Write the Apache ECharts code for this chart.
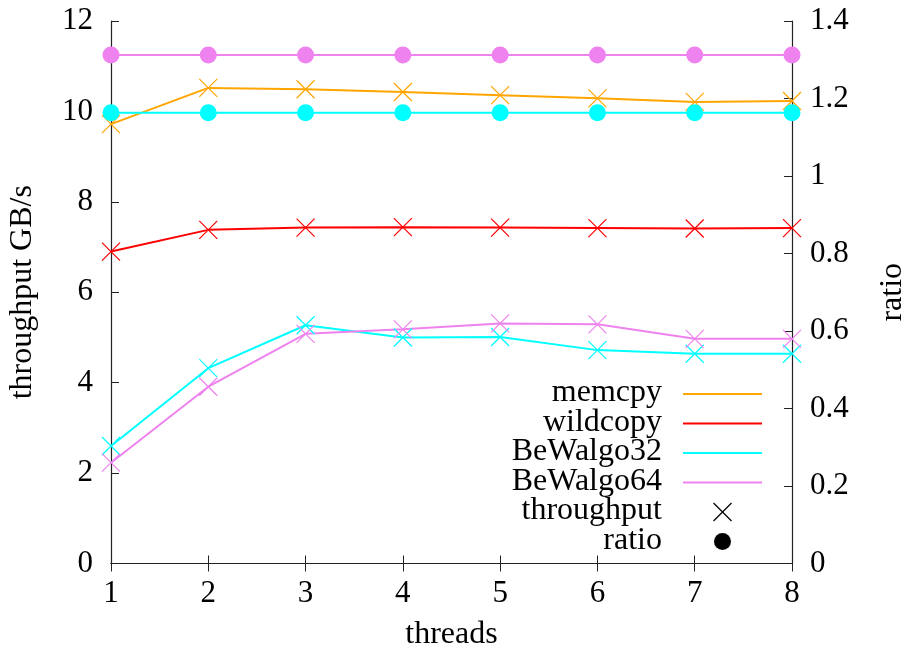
<!DOCTYPE html>
<html>
<head>
<meta charset="utf-8">
<script src="https://cdn.jsdelivr.net/npm/echarts@6/dist/echarts.min.js"></script>
<style>
  html, body { margin: 0; padding: 0; background: #fff; }
  #chart { width: 907px; height: 654px; }
</style>
</head>
<body>
<div id="chart"></div>
<script>
// Thread counts on the x axis
const threads = [1, 2, 3, 4, 5, 6, 7, 8];

// Throughput in GB/s (left axis)
const memcpy    = [9.72, 10.52, 10.49, 10.43, 10.36, 10.29, 10.21, 10.23];
const wildcopy  = [6.90, 7.38, 7.43, 7.44, 7.43, 7.42, 7.41, 7.42];
const bewalgo32 = [2.60, 4.32, 5.27, 5.00, 5.01, 4.72, 4.64, 4.64];
const bewalgo64 = [2.23, 3.91, 5.08, 5.18, 5.31, 5.29, 4.97, 4.97];

// Compression ratio (right axis)
const ratio32 = [1.163, 1.163, 1.163, 1.163, 1.163, 1.163, 1.163, 1.163];
const ratio64 = [1.312, 1.312, 1.312, 1.312, 1.312, 1.312, 1.312, 1.312];

// Key entries: label and colour
const keyNames  = ['memcpy', 'wildcopy', 'BeWalgo32', 'BeWalgo64'];
const keyColors = ['#ffa500', '#ff0000', '#00ffff', '#ee82ee'];

const FONT = "'Liberation Serif', 'Times New Roman', serif";
const FS_TICK = 31;   // tick labels
const FS_TEXT = 32;   // axis titles and key
const CROSS = 'path://M0,0L10,10M10,0L0,10';

const pairs = vals => threads.map((t, i) => [t, vals[i]]);

function throughputSeries(name, vals, color) {
  return {
    name, type: 'line', xAxisIndex: 0, yAxisIndex: 0,
    data: pairs(vals),
    symbol: CROSS, symbolSize: 18, showSymbol: true, clip: false,
    lineStyle: { color, width: 2 },
    itemStyle: { color: 'rgba(0,0,0,0)', borderColor: color, borderWidth: 1.2 },
    emphasis: { disabled: true }, silent: true
  };
}
function ratioSeries(name, vals, color) {
  return {
    name, type: 'line', xAxisIndex: 0, yAxisIndex: 1,
    data: pairs(vals),
    symbol: 'circle', symbolSize: 17, showSymbol: true, clip: false,
    lineStyle: { color, width: 2 },
    itemStyle: { color },
    emphasis: { disabled: true }, silent: true
  };
}

const tickText = { fontFamily: FONT, fontSize: FS_TICK, color: '#000' };
const nameText = { fontFamily: FONT, fontSize: FS_TEXT, color: '#000' };
const frameLine = { show: true, lineStyle: { color: '#222', width: 1.2 } };
const inTick = { show: true, inside: true, length: 8, lineStyle: { color: '#222', width: 1 } };

// Key block drawn at the lower right of the plot
const keyText = [...keyNames, 'throughput', 'ratio'];
const keyX = 662, lineX0 = 683, lineX1 = 762, keyY0 = 394, keyDy = 29.5;
const graphic = [];
keyText.forEach((t, i) => {
  graphic.push({
    type: 'text', x: keyX, y: keyY0 + i * keyDy - 1,
    style: { text: t, font: `${FS_TEXT}px ${FONT}`, fill: '#000', align: 'right', verticalAlign: 'middle' },
    silent: true
  });
});
keyColors.forEach((c, i) => {
  const y = keyY0 + i * keyDy;
  graphic.push({ type: 'line', shape: { x1: lineX0, y1: y, x2: lineX1, y2: y }, style: { stroke: c, lineWidth: 2 }, silent: true });
});
{
  const cx = (lineX0 + lineX1) / 2, cy = keyY0 + 4 * keyDy, h = 9;
  graphic.push({ type: 'line', shape: { x1: cx - h, y1: cy - h, x2: cx + h, y2: cy + h }, style: { stroke: '#000', lineWidth: 1.2 }, silent: true });
  graphic.push({ type: 'line', shape: { x1: cx - h, y1: cy + h, x2: cx + h, y2: cy - h }, style: { stroke: '#000', lineWidth: 1.2 }, silent: true });
  graphic.push({ type: 'circle', shape: { cx, cy: keyY0 + 5 * keyDy, r: 8.5 }, style: { fill: '#000' }, silent: true });
}

const chart = echarts.init(document.getElementById('chart'), null, { renderer: 'canvas' });
chart.setOption({
  animation: false,
  backgroundColor: '#fff',
  grid: { left: 111, right: 115, top: 21, bottom: 90.5, containLabel: false, outerBoundsMode: 'none' },
  xAxis: [
    {
      type: 'value', position: 'bottom', min: 1, max: 8, interval: 1,
      name: 'threads', nameLocation: 'middle', nameGap: 55, nameTextStyle: nameText,
      axisLine: frameLine, axisTick: inTick, splitLine: { show: false },
      axisLabel: { ...tickText, margin: 15 }
    },
    {
      type: 'value', position: 'top', min: 1, max: 8, interval: 1,
      axisLine: frameLine, axisTick: inTick, splitLine: { show: false },
      axisLabel: { show: false }
    }
  ],
  yAxis: [
    {
      type: 'value', position: 'left', min: 0, max: 12, interval: 2,
      name: 'throughput GB/s', nameLocation: 'middle', nameRotate: 90, nameGap: 72,
      nameTextStyle: nameText,
      axisLine: frameLine, axisTick: inTick, splitLine: { show: false },
      axisLabel: { ...tickText, margin: 18 }
    },
    {
      type: 'value', position: 'right', min: 0, max: 1.4, interval: 0.2,
      name: 'ratio', nameLocation: 'middle', nameRotate: 90, nameGap: 85,
      nameTextStyle: nameText,
      axisLine: frameLine, axisTick: inTick, splitLine: { show: false },
      axisLabel: { ...tickText, margin: 18, formatter: v => String(+v.toFixed(1)) }
    }
  ],
  series: [
    throughputSeries(keyNames[0], memcpy, keyColors[0]),
    throughputSeries(keyNames[1], wildcopy, keyColors[1]),
    throughputSeries(keyNames[2], bewalgo32, keyColors[2]),
    throughputSeries(keyNames[3], bewalgo64, keyColors[3]),
    ratioSeries(keyNames[2] + ' ratio', ratio32, keyColors[2]),
    ratioSeries(keyNames[3] + ' ratio', ratio64, keyColors[3])
  ],
  graphic
});
</script>
</body>
</html>
